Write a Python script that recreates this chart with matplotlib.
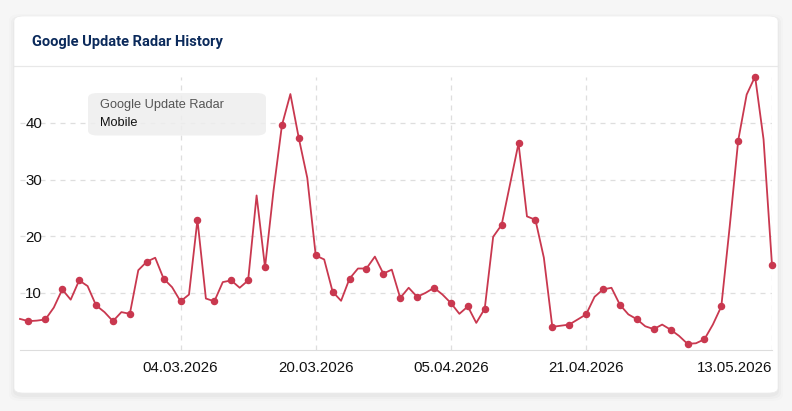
import numpy as np
import pandas as pd
import matplotlib
matplotlib.use("Agg")
import matplotlib.pyplot as plt
import matplotlib.dates as mdates
from matplotlib.patches import FancyBboxPatch

# daily radar values, 13.02.2026 - 13.05.2026
start_date = "2026-02-13"
values = [5.4, 5.0, 5.1, 5.3, 7.4, 10.6, 8.8, 12.2, 11.2, 7.8,
          6.6, 5.0, 6.6, 6.3, 14.0, 15.5, 16.2, 12.5, 11.0, 8.5,
          9.7, 22.9, 9.0, 8.5, 11.9, 12.2, 10.9, 12.2, 27.2, 14.5,
          28.0, 39.6, 45.1, 37.3, 30.3, 16.6, 15.9, 10.2, 8.6, 12.5,
          14.3, 14.3, 16.4, 13.4, 14.1, 9.1, 10.9, 9.3, 10.0, 10.9,
          9.7, 8.2, 6.3, 7.6, 4.7, 7.2, 19.9, 22.0, 29.2, 36.4,
          23.5, 22.9, 16.2, 4.0, 4.2, 4.4, 5.3, 6.2, 9.3, 10.6,
          10.9, 7.9, 6.2, 5.35, 4.1, 3.6, 4.4, 3.5, 2.4, 1.0,
          1.1, 1.8, 4.4, 7.6, 21.8, 36.9, 45.0, 48.2, 37.1, 14.9]
tick_dates = ["2026-03-04", "2026-03-20", "2026-04-05", "2026-04-21", "2026-05-13"]
y_ticks = [10, 20, 30, 40]
title = "Google Update Radar History"
legend_lines = ["Google Update Radar", "Mobile"]

dates = pd.date_range(start_date, periods=len(values), freq="D")
ticks = pd.to_datetime(tick_dates)

W, H = 792, 411
fig = plt.figure(figsize=(W / 100, H / 100), dpi=100)
fig.patch.set_facecolor("#f6f6f6")

def fx(px):
    return px / W

def fy(py):
    return 1 - py / H

# soft shadow + card
for i, a in enumerate([0.012, 0.018, 0.025]):
    g = 5 - 2 * i
    fig.patches.append(FancyBboxPatch(
        (fx(14 - g), fy(393 + g + 3)), fx(764 + 2 * g), (377 + 2 * g) / H,
        boxstyle="round,pad=0,rounding_size=0.015", transform=fig.transFigure,
        facecolor="black", edgecolor="none", alpha=a, zorder=0))
fig.patches.append(FancyBboxPatch(
    (fx(14), fy(393)), fx(764), 377 / H,
    boxstyle="round,pad=0,rounding_size=0.012", transform=fig.transFigure,
    facecolor="white", edgecolor="#ececec", linewidth=0.5, zorder=1))

fig.text(fx(32), fy(42), title, family="Roboto", fontweight="bold",
         fontsize=10.5, color="#0b2a5b", va="center", ha="left", zorder=2)
fig.add_artist(plt.Line2D([fx(14), fx(778)], [fy(66), fy(66)],
                          transform=fig.transFigure, color="#e8e8e8", lw=0.9,
                          zorder=2))

# plot area
ax = fig.add_axes([fx(20), fy(349.5), fx(772 - 20), (349.5 - 76.5) / H])
ax.set_zorder(3)
ax.set_facecolor("none")
color = "#c9384f"
ax.plot(dates, values, color=color, lw=1.3, marker="o", markersize=4.4,
        markevery=slice(1, None, 2), clip_on=False, zorder=3)

ax.set_xlim(dates[0], dates[-1])
ax.set_ylim(0, max(values))
ax.set_xticks(ticks)
ax.xaxis.set_major_formatter(mdates.DateFormatter("%d.%m.%Y"))
ax.set_yticks(y_ticks)

ax.grid(True, color="#dedede", linestyle=(0, (4, 4)), linewidth=0.9)
ax.set_axisbelow(True)
for s in ["top", "right", "left"]:
    ax.spines[s].set_visible(False)
ax.spines["bottom"].set_color("#dddddd")

ax.tick_params(axis="x", length=0, pad=8, labelsize=10.8,
               labelcolor="#111111")
ax.tick_params(axis="y", length=0, pad=-16, labelsize=10.8,
               labelcolor="#111111")
for lab in ax.get_xticklabels():
    lab.set_family("Liberation Sans")
xl = ax.get_xticklabels()
xl[-1].set_ha("right")
for lab in ax.get_yticklabels():
    lab.set_family("Liberation Sans")
    lab.set_ha("right")

# legend box like a tooltip
fig.patches.append(FancyBboxPatch(
    (fx(88), fy(135.5)), fx(178), 42.5 / H,
    boxstyle="round,pad=0,rounding_size=0.012", transform=fig.transFigure,
    facecolor="#eeeeee", edgecolor="none", alpha=0.85, zorder=5))
fig.text(fx(100), fy(105), legend_lines[0], family="Liberation Sans",
         fontsize=9.2, color="#555555", va="center", zorder=6)
fig.text(fx(100), fy(123), legend_lines[1], family="Liberation Sans",
         fontsize=9.2, color="#111111", va="center", zorder=6)

fig.savefig("out.png", dpi=100, facecolor=fig.get_facecolor())
